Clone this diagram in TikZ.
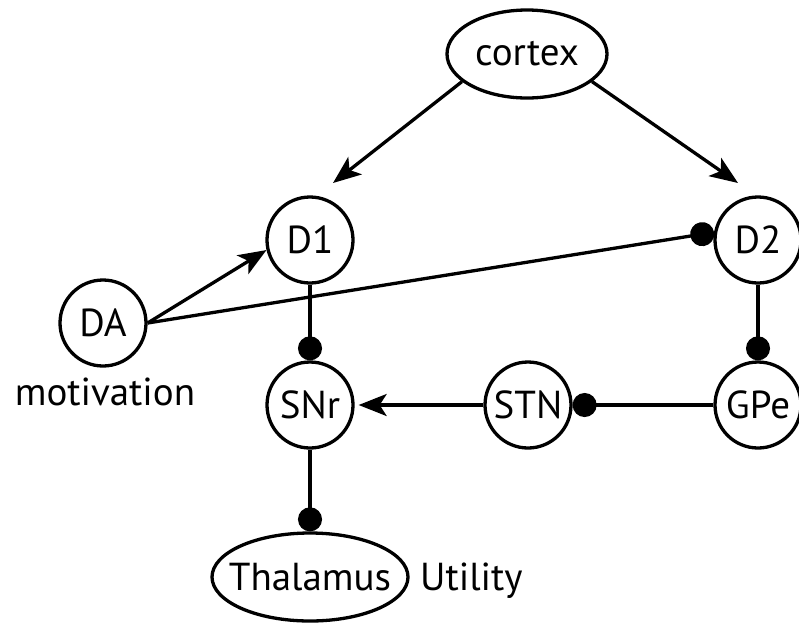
\documentclass[tikz,border=0pt]{standalone}
\usepackage{fontspec}
\setmainfont{PT Sans}
\usetikzlibrary{arrows.meta,shapes.geometric}
\begin{document}
\begin{tikzpicture}[x=1pt,y=-1pt,
  every node/.style={font=\fontsize{39}{45}\selectfont},
  area/.style={draw,circle,line width=3.3pt,minimum size=86pt,inner sep=0pt},
  region/.style={draw,ellipse,line width=3.3pt,inner sep=0pt},
  link/.style={line width=3.3pt},
  excite/.style={link,-{Stealth[length=28pt,width=22pt,inset=7pt]}},
  inhibit/.style={link,-{Circle[length=24pt,width=24pt]}}]
\useasboundingbox (0,0) rectangle (799,622);

% nuclei
\node[region,minimum width=160pt,minimum height=88pt] (cortex) at (527,54) {\makebox[0pt]{cortex}};
\node[area] (D1) at (310,240) {D1};
\node[area] (D2) at (758,240) {D2};
\node[area] (DA) at (103,323) {DA};
\node[area] (SNr) at (310,405) {SNr};
\node[area] (STN) at (528,405) {STN};
\node[area] (GPe) at (758,405) {GPe};
\node[region,minimum width=196pt,minimum height=88pt] (thal) at (310,577) {\makebox[0pt]{Thalamus}};

% labels
\node[anchor=base] (mot) at (105,405) {motivation};
\node[anchor=base west,inner sep=0pt] (util) at (420,590) {Utility};

% arrow ends near the striatal nuclei
\coordinate (d1tip) at (333,183);
\coordinate (d2tip) at (738,183);

% connections
\draw[excite] (cortex.203) -- (d1tip);
\draw[excite] (cortex.337) -- (d2tip);
\draw[excite] (DA.east) -- (D1.193);
\draw[inhibit] (DA.east) -- (D2.170);
\draw[inhibit] (D1.south) -- (SNr.north);
\draw[inhibit] (D2.south) -- (GPe.north);
\draw[inhibit] (GPe.west) -- (STN.east);
\draw[excite] (STN.west) -- ([xshift=4pt]SNr.east);
\draw[inhibit] (SNr.south) -- (thal.north);
\end{tikzpicture}
\end{document}
